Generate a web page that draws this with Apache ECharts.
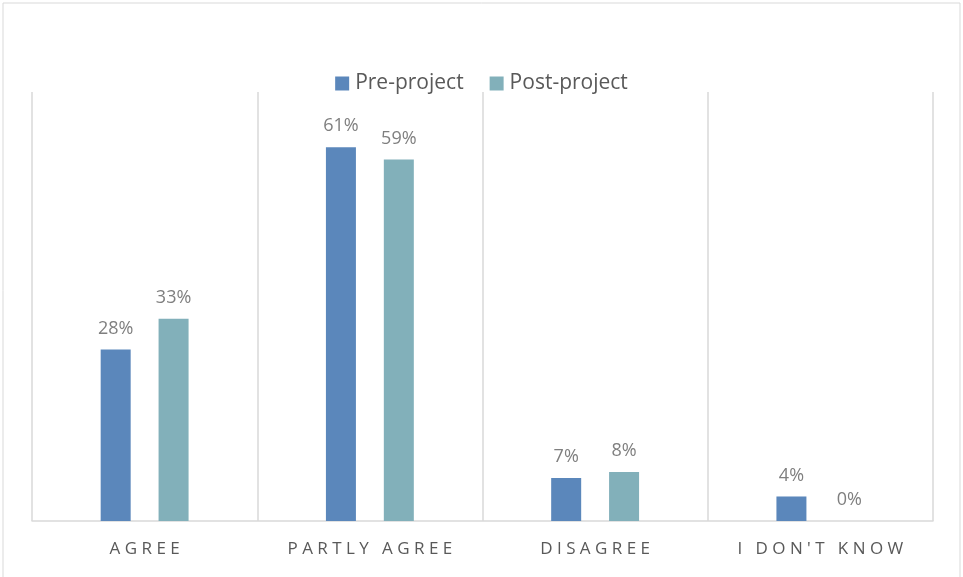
<!DOCTYPE html>
<html><head><meta charset="utf-8">
<script src="https://cdn.jsdelivr.net/npm/echarts@6/dist/echarts.min.js"></script>
<style>html,body{margin:0;padding:0;background:#fff}#c{width:963px;height:577px}</style>
</head><body><div id="c"></div>
<script>
const categories = ['AGREE', 'PARTLY AGREE', 'DISAGREE', "I DON'T KNOW"];
const preProject = [28, 61, 7, 4];
const postProject = [33, 59, 8, 0];
const seriesNames = ['Pre-project', 'Post-project'];

function spaced(s) {
  return s.split(' ').map(w => w.split('').join(' ')).join('   ');
}

const chart = echarts.init(document.getElementById('c'), null, {renderer: 'canvas'});
const font = "Open Sans, Noto Sans, sans-serif";
const lbl = {show: true, position: 'top', distance: 12, color: '#7f7f7f', fontSize: 18, fontFamily: font, formatter: '{c}%'};
chart.setOption({
  animation: false,
  graphic: [{type: 'rect', shape: {x: 3, y: 3, width: 957, height: 600}, style: {fill: 'none', stroke: '#d9d9d9', lineWidth: 1}}],
  legend: {
    top: 68, left: 'center', itemWidth: 14, itemHeight: 14, itemGap: 26,
    icon: 'rect',
    textStyle: {color: '#595959', fontSize: 21, fontFamily: font, padding: [0, 0, 0, 1]},
    data: seriesNames
  },
  grid: {left: 32, right: 30, top: 92, bottom: 56},
  xAxis: {
    type: 'category', data: categories,
    axisLine: {show: true, lineStyle: {color: '#d9d9d9', width: 1.5}},
    axisTick: {show: false},
    splitLine: {show: true, lineStyle: {color: '#d9d9d9', width: 1.5}},
    axisLabel: {color: '#595959', fontSize: 17, fontFamily: font, margin: 20, formatter: v => spaced(v)}
  },
  yAxis: {type: 'value', min: 0, max: 70, show: false, splitLine: {show: false}},
  series: [
    {name: seriesNames[0], type: 'bar', data: preProject, barWidth: 30, barGap: '93%', itemStyle: {color: '#5b87bb'}, label: lbl},
    {name: seriesNames[1], type: 'bar', data: postProject, barWidth: 30, itemStyle: {color: '#82b0ba'}, label: lbl}
  ]
});
</script></body></html>
